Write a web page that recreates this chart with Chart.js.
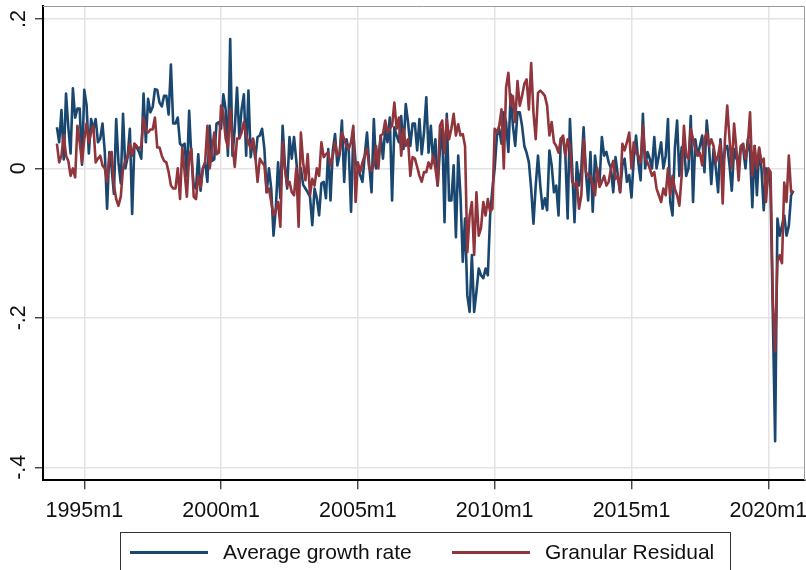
<!DOCTYPE html>
<html><head><meta charset="utf-8">
<script src="https://cdn.jsdelivr.net/npm/chart.js@4.4.0/dist/chart.umd.min.js"></script>
<style>
html,body{margin:0;padding:0;background:#fff;}
#wrap{position:relative;width:806px;height:570px;overflow:hidden;}
#legend{position:absolute;left:120px;top:532px;width:611px;height:60px;border:1.3px solid #333;box-sizing:border-box;font-family:"Liberation Sans",Arial,sans-serif;font-size:21px;color:#111;}
.sw{position:absolute;height:2.6px;top:18px;width:78px;}
.lt{position:absolute;top:7px;line-height:24px;white-space:nowrap;}
</style></head><body>
<div id="wrap"><canvas id="c" width="806" height="570"></canvas><div id="legend"></div></div>
<script>
// monthly series, 1994m1 .. 2020m12 (one row per year)
const startYear = 1994;
const avgGrowthRate = [
 0.055, 0.035, 0.078, 0.012, 0.1, 0.055, 0.02, 0.107, 0.068, 0.08, 0.08, 0.005,
 0.105, 0.085, 0.02, 0.066, 0.052, 0.066, 0.035, 0.04, 0.06, 0.022, -0.054, 0.022,
 0.0, -0.034, 0.066, 0.008, -0.02, 0.073, 0.0, 0.015, 0.053, -0.061, 0.033, 0.028,
 0.022, 0.013, 0.1, 0.035, 0.093, 0.075, 0.082, 0.106, 0.105, 0.088, 0.083, 0.097,
 0.097, 0.072, 0.139, 0.06, 0.06, 0.068, 0.033, 0.03, 0.033, -0.01, 0.077, 0.013,
 -0.023, -0.027, 0.019, -0.03, 0.0, 0.008, -0.018, 0.057, 0.01, 0.012, 0.06, 0.062,
 0.053, 0.099, 0.079, 0.017, 0.173, 0.017, 0.053, 0.108, 0.042, 0.079, 0.099, 0.017,
 0.104, 0.015, 0.039, 0.013, 0.042, 0.044, 0.053, 0.026, -0.032, 0.0, -0.027, -0.09,
 -0.054, 0.008, -0.04, 0.057, 0.004, -0.027, 0.042, 0.013, 0.042, 0.01, -0.027, 0.0,
 -0.022, -0.027, -0.032, -0.038, -0.076, -0.027, -0.04, -0.063, -0.02, -0.018, -0.04, 0.026,
 -0.043, 0.024, 0.046, 0.004, 0.019, 0.064, -0.018, 0.039, 0.024, -0.058, 0.048, 0.008,
 0.0, -0.009, -0.018, 0.017, 0.048, 0.004, -0.032, 0.066, 0.0, 0.011, 0.044, 0.013,
 0.053, 0.035, 0.068, -0.043, 0.055, 0.044, 0.035, 0.07, 0.026, 0.086, 0.062, 0.03,
 0.06, 0.06, 0.024, 0.066, 0.019, 0.048, 0.095, 0.021, 0.057, 0.008, 0.039, -0.023,
 0.026, 0.053, -0.072, 0.073, -0.043, -0.043, 0.004, -0.092, 0.017, -0.036, -0.125, -0.067,
 -0.17, -0.192, -0.116, -0.192, -0.165, -0.134, -0.143, -0.147, -0.134, -0.143, -0.063, -0.027,
 0.0, 0.044, 0.053, 0.033, 0.075, 0.062, 0.022, 0.099, 0.057, 0.03, 0.075, 0.075,
 0.057, 0.03, 0.021, 0.008, -0.027, -0.074, -0.023, 0.017, -0.023, -0.054, -0.04, -0.056,
 0.024, 0.004, -0.032, -0.023, -0.063, 0.04, 0.04, 0.017, -0.067, 0.066, 0.0, -0.072,
 0.008, -0.023, 0.0, 0.055, -0.005, -0.043, 0.022, -0.058, 0.017, -0.009, -0.018, 0.042,
 0.017, 0.022, 0.008, 0.0, -0.032, 0.015, -0.009, -0.032, 0.004, 0.013, -0.018, -0.009,
 -0.039, 0.013, 0.044, 0.008, -0.016, 0.073, 0.0, 0.022, 0.013, 0.0, 0.042, 0.0,
 0.017, 0.035, 0.0, 0.017, 0.066, -0.045, -0.063, 0.026, 0.064, -0.01, 0.028, 0.03,
 -0.01, 0.0, 0.07, -0.045, 0.039, 0.017, 0.03, 0.044, -0.005, 0.064, 0.03, -0.021,
 0.026, 0.0, -0.032, 0.039, 0.0, 0.026, 0.03, 0.004, -0.03, 0.026, 0.013, 0.008,
 0.03, 0.026, 0.0, 0.039, 0.021, -0.052, 0.03, -0.036, 0.026, 0.0, -0.056, 0.0,
 -0.005, -0.027, -0.2, -0.365, -0.067, -0.09, -0.077, -0.063, -0.09, -0.077, -0.036, -0.03
];
const granularResidual = [
 0.033, 0.008, 0.017, 0.044, 0.017, 0.01, -0.01, 0.0, -0.012, 0.057, 0.035, 0.008,
 0.039, 0.06, 0.035, 0.048, 0.057, 0.008, 0.013, 0.017, 0.004, 0.0, -0.018, 0.017,
 0.022, -0.023, -0.041, -0.05, -0.038, 0.0, 0.01, 0.015, 0.033, 0.017, 0.033, 0.03,
 0.026, 0.03, 0.068, 0.05, 0.048, 0.052, 0.052, 0.068, 0.028, 0.028, 0.017, 0.01,
 0.008, -0.005, -0.023, -0.027, -0.027, 0.0, -0.041, 0.028, -0.005, -0.038, 0.017, 0.026,
 -0.038, -0.041, -0.01, -0.025, 0.0, 0.008, 0.057, 0.0, 0.022, 0.048, 0.019, 0.021,
 0.084, 0.073, 0.04, 0.028, 0.079, 0.033, 0.002, 0.04, 0.04, 0.048, 0.062, 0.044,
 0.035, 0.026, 0.04, 0.017, -0.018, 0.013, 0.008, 0.004, -0.032, -0.027, -0.045, -0.063,
 -0.056, -0.045, -0.078, 0.035, 0.0, -0.023, -0.018, -0.032, -0.036, 0.0, -0.078, 0.048,
 0.008, -0.016, 0.019, -0.036, -0.014, -0.023, 0.0, -0.01, 0.035, 0.015, 0.019, 0.021,
 0.004, 0.017, 0.035, 0.017, 0.021, 0.048, 0.039, 0.03, 0.026, 0.035, 0.057, -0.045,
 0.008, -0.005, 0.008, 0.017, 0.026, 0.0, -0.003, 0.004, 0.03, 0.0, 0.044, 0.046,
 0.064, 0.048, 0.053, 0.057, 0.088, 0.053, 0.068, 0.017, 0.053, 0.03, 0.039, -0.01,
 0.015, 0.013, 0.002, -0.01, -0.018, -0.005, -0.005, 0.008, 0.0, 0.017, 0.0, -0.023,
 0.057, 0.064, 0.021, 0.066, 0.039, 0.053, 0.073, 0.044, 0.059, 0.044, 0.046, 0.03,
 -0.112, -0.063, -0.045, -0.116, -0.032, -0.09, -0.08, -0.045, -0.063, -0.041, -0.058, -0.054,
 0.053, 0.048, 0.057, 0.079, 0.0, 0.108, 0.128, 0.084, 0.097, 0.062, 0.117, 0.084,
 0.097, 0.113, 0.119, 0.079, 0.141, 0.075, 0.039, 0.101, 0.104, 0.101, 0.097, 0.084,
 0.044, 0.062, 0.035, 0.03, 0.021, 0.039, 0.044, 0.017, 0.039, 0.03, -0.018, -0.023,
 -0.018, -0.054, -0.036, 0.039, -0.005, -0.01, -0.01, -0.023, -0.036, 0.0, -0.025, -0.018,
 -0.01, -0.023, -0.018, 0.0, 0.01, -0.014, -0.01, -0.032, 0.033, 0.024, 0.035, 0.048,
 0.0, 0.035, 0.021, 0.017, 0.008, 0.057, 0.013, 0.008, 0.0, -0.01, -0.005, -0.027,
 -0.036, -0.045, -0.027, -0.036, 0.0, -0.036, -0.01, -0.027, -0.036, -0.05, -0.01, 0.057,
 0.017, 0.013, 0.053, 0.039, 0.026, 0.017, 0.021, 0.004, 0.039, 0.048, 0.03, 0.039,
 0.03, 0.008, 0.017, 0.035, -0.047, 0.039, 0.084, 0.039, 0.0, 0.06, 0.026, -0.016,
 0.03, 0.033, 0.013, 0.03, 0.075, -0.01, 0.03, 0.0, 0.028, 0.008, 0.013, -0.045,
 0.0, -0.005, -0.178, -0.245, -0.125, -0.116, -0.127, -0.019, -0.045, 0.017, -0.032, -0.03
];
const seriesNames = ['Average growth rate', 'Granular Residual'];
const seriesColors = ['#1a476f', '#90353b'];
const xTickMonths = [12, 72, 132, 192, 252, 312];   // months since 1994m1
const xTickLabels = ['1995m1', '2000m1', '2005m1', '2010m1', '2015m1', '2020m1'];
const yTickValues = [-0.4, -0.2, 0, 0.2];
const yTickLabels = ['-.4', '-.2', '0', '.2'];

const FONT = '"Liberation Sans", Arial, sans-serif';
const toPoints = arr => arr.map((v, i) => ({x: i, y: v}));

const yLabelPlugin = {
  id: 'yRotLabels',
  afterDraw(chart) {
    const s = chart.scales.y, ctx = chart.ctx;
    ctx.save();
    ctx.font = '21.5px ' + FONT;
    ctx.fillStyle = '#111';
    ctx.textAlign = 'center';
    ctx.textBaseline = 'middle';
    yTickValues.forEach((v, i) => {
      const py = s.getPixelForValue(v);
      ctx.save();
      ctx.translate(s.left - 16, py);
      ctx.rotate(-Math.PI / 2);
      ctx.fillText(yTickLabels[i], 0, 0);
      ctx.restore();
    });
    ctx.restore();
  }
};
const framePlugin = {
  id: 'frame',
  beforeDatasetsDraw(chart) {
    const a = chart.chartArea, ctx = chart.ctx;
    ctx.save();
    ctx.strokeStyle = '#9a9a9a';
    ctx.lineWidth = 1;
    ctx.beginPath();
    ctx.moveTo(a.left, a.top + 0.5);
    ctx.lineTo(a.right - 0.5, a.top + 0.5);
    ctx.lineTo(a.right - 0.5, a.bottom);
    ctx.stroke();
    ctx.restore();
  }
};

const chart = new Chart(document.getElementById('c'), {
  type: 'line',
  data: {
    datasets: [
      {label: seriesNames[0], data: toPoints(avgGrowthRate), borderColor: seriesColors[0], backgroundColor: seriesColors[0], borderWidth: 2.6, order: 1},
      {label: seriesNames[1], data: toPoints(granularResidual), borderColor: seriesColors[1], backgroundColor: seriesColors[1], borderWidth: 2.6, order: 0}
    ]
  },
  options: {
    responsive: false,
    animation: false,
    layout: {autoPadding: false, padding: {left: 35, right: 1, top: 6, bottom: 37}},
    plugins: {legend: {display: false}, tooltip: {enabled: false}},
    elements: {point: {radius: 0}, line: {tension: 0, borderJoinStyle: 'round'}},
    scales: {
      x: {
        type: 'linear', min: -6.1, max: 328.1,
        afterBuildTicks: s => { s.ticks = xTickMonths.map(v => ({value: v})); },
        afterFit: s => { s.paddingLeft = 0; s.paddingRight = 0; },
        ticks: {callback: (v, i) => xTickLabels[i], font: {family: FONT, size: 21.5}, color: '#111', padding: 9, maxRotation: 0, autoSkip: false},
        grid: {color: '#e3e3e3', lineWidth: 1.5, tickLength: 9, tickColor: '#333', tickWidth: 1.3},
        border: {color: '#000', width: 2}
      },
      y: {
        type: 'linear', min: -0.4173, max: 0.2173,
        afterBuildTicks: s => { s.ticks = yTickValues.map(v => ({value: v})); },
        afterFit: s => { s.paddingTop = 0; s.paddingBottom = 0; },
        ticks: {display: false},
        grid: {color: '#e3e3e3', lineWidth: 1.5, tickLength: 8, tickColor: '#333', tickWidth: 1.3},
        border: {color: '#000', width: 2}
      }
    }
  },
  plugins: [yLabelPlugin, framePlugin]
});

// legend box built from the chart's datasets
const lg = document.getElementById('legend');
const itemPos = [[9, 102], [331, 424]];
chart.data.datasets.forEach((ds, i) => {
  const sw = document.createElement('div');
  sw.className = 'sw'; sw.style.left = itemPos[i][0] + 'px'; sw.style.background = ds.borderColor;
  const t = document.createElement('div');
  t.className = 'lt'; t.style.left = itemPos[i][1] + 'px'; t.textContent = ds.label;
  lg.appendChild(sw); lg.appendChild(t);
});
</script>
</body></html>
